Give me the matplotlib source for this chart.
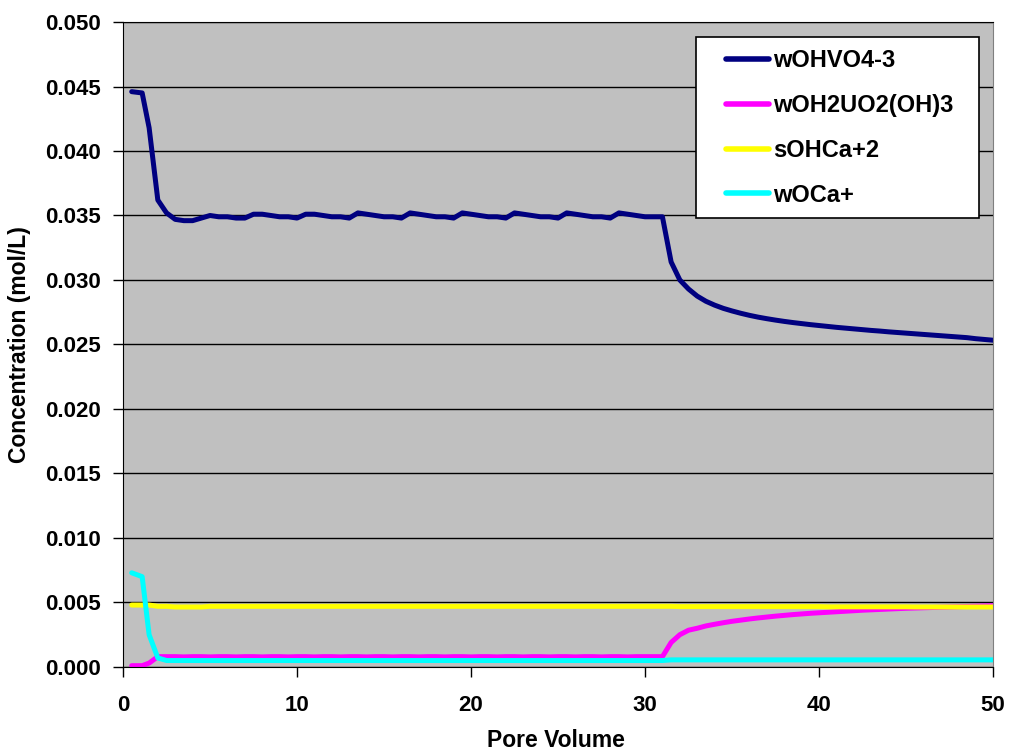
import numpy as np
import matplotlib
matplotlib.use("Agg")
import matplotlib.pyplot as plt
from matplotlib.patches import Rectangle

plt.rcParams['font.family'] = ['Liberation Sans', 'DejaVu Sans']
plt.rcParams['font.weight'] = 'bold'

# pore volume sample points
pv = np.concatenate([[0.5, 1.1, 1.5], np.arange(2.0, 50.01, 0.5)])

wOHVO4 = [
    0.0446, 0.0445, 0.0418, 0.0362, 0.0352, 0.0347, 0.0346, 0.0346, 0.0348, 0.0350,
    0.0349, 0.0349, 0.0348, 0.0348, 0.0351, 0.0351, 0.0350, 0.0349, 0.0349, 0.0348,
    0.0351, 0.0351, 0.0350, 0.0349, 0.0349, 0.0348, 0.0352, 0.0351, 0.0350, 0.0349,
    0.0349, 0.0348, 0.0352, 0.0351, 0.0350, 0.0349, 0.0349, 0.0348, 0.0352, 0.0351,
    0.0350, 0.0349, 0.0349, 0.0348, 0.0352, 0.0351, 0.0350, 0.0349, 0.0349, 0.0348,
    0.0352, 0.0351, 0.0350, 0.0349, 0.0349, 0.0348, 0.0352, 0.0351, 0.0350, 0.0349,
    0.0349, 0.0349, 0.0314, 0.03000, 0.02930, 0.02875, 0.02835, 0.02805, 0.02780, 0.02760,
    0.02742, 0.02726, 0.02712, 0.02700, 0.02689, 0.02679, 0.02670, 0.02662, 0.02654, 0.02647,
    0.02640, 0.02633, 0.02627, 0.02621, 0.02615, 0.02609, 0.02604, 0.02598, 0.02593, 0.02588,
    0.02583, 0.02578, 0.02573, 0.02568, 0.02563, 0.02558, 0.02553, 0.02545, 0.02539, 0.02533,
]

wOH2UO2 = [
    0.0001, 0.0001, 0.0003, 0.0008, 0.0008, 0.0008, 0.00078, 0.0008, 0.0008, 0.00078,
    0.0008, 0.0008, 0.00078, 0.0008, 0.0008, 0.00078, 0.0008, 0.0008, 0.00078, 0.0008,
    0.0008, 0.00078, 0.0008, 0.0008, 0.00078, 0.0008, 0.0008, 0.00078, 0.0008, 0.0008,
    0.00078, 0.0008, 0.0008, 0.00078, 0.0008, 0.0008, 0.00078, 0.0008, 0.0008, 0.00078,
    0.0008, 0.0008, 0.00078, 0.0008, 0.0008, 0.00078, 0.0008, 0.0008, 0.00078, 0.0008,
    0.0008, 0.00078, 0.0008, 0.0008, 0.00078, 0.0008, 0.0008, 0.00078, 0.0008, 0.0008,
    0.0008, 0.0008, 0.0019, 0.0025, 0.00285, 0.00300, 0.00318, 0.00331, 0.00343, 0.00354,
    0.00363, 0.00372, 0.00380, 0.00387, 0.00394, 0.00400, 0.00406, 0.00411, 0.00416, 0.00420,
    0.00424, 0.00428, 0.00432, 0.00436, 0.00440, 0.00443, 0.00446, 0.00449, 0.00452, 0.00455,
    0.00457, 0.00459, 0.00461, 0.00463, 0.00465, 0.00467, 0.00469, 0.00471, 0.00473, 0.00475,
]

sOHCa = [
    0.0048, 0.0048, 0.0048, 0.0047, 0.0047, 0.00465, 0.00465, 0.00465, 0.00465, 0.0047,
    0.0047, 0.0047, 0.0047, 0.0047, 0.0047, 0.0047, 0.0047, 0.0047, 0.0047, 0.0047,
    0.0047, 0.0047, 0.0047, 0.0047, 0.0047, 0.0047, 0.0047, 0.0047, 0.0047, 0.0047,
    0.0047, 0.0047, 0.0047, 0.0047, 0.0047, 0.0047, 0.0047, 0.0047, 0.0047, 0.0047,
    0.0047, 0.0047, 0.0047, 0.0047, 0.0047, 0.0047, 0.0047, 0.0047, 0.0047, 0.0047,
    0.0047, 0.0047, 0.0047, 0.0047, 0.0047, 0.0047, 0.0047, 0.0047, 0.0047, 0.0047,
    0.0047, 0.0047, 0.0047, 0.00468, 0.00468, 0.00468, 0.00468, 0.00468, 0.00468, 0.00468,
    0.00468, 0.00468, 0.00468, 0.00468, 0.00468, 0.00468, 0.00468, 0.00468, 0.00468, 0.00468,
    0.00466, 0.00466, 0.00466, 0.00466, 0.00466, 0.00466, 0.00466, 0.00466, 0.00466, 0.00466,
    0.00465, 0.00465, 0.00465, 0.00465, 0.00465, 0.00465, 0.00465, 0.00465, 0.00465, 0.00465,
]

wOCa = [
    0.0073, 0.0070, 0.0025, 0.0007, 0.0005, 0.0005, 0.0005, 0.0005, 0.0005, 0.0005,
    0.0005, 0.0005, 0.0005, 0.0005, 0.0005, 0.0005, 0.0005, 0.0005, 0.0005, 0.0005,
    0.0005, 0.0005, 0.0005, 0.0005, 0.0005, 0.0005, 0.0005, 0.0005, 0.0005, 0.0005,
    0.0005, 0.0005, 0.0005, 0.0005, 0.0005, 0.0005, 0.0005, 0.0005, 0.0005, 0.0005,
    0.0005, 0.0005, 0.0005, 0.0005, 0.0005, 0.0005, 0.0005, 0.0005, 0.0005, 0.0005,
    0.0005, 0.0005, 0.0005, 0.0005, 0.0005, 0.0005, 0.0005, 0.0005, 0.0005, 0.0005,
    0.0005, 0.0005, 0.00055, 0.00055, 0.00055, 0.00055, 0.00055, 0.00055, 0.00055, 0.00055,
    0.00055, 0.00055, 0.00055, 0.00055, 0.00055, 0.00055, 0.00055, 0.00055, 0.00055, 0.00055,
    0.00055, 0.00055, 0.00055, 0.00055, 0.00055, 0.00055, 0.00055, 0.00055, 0.00055, 0.00055,
    0.00055, 0.00055, 0.00055, 0.00055, 0.00055, 0.00055, 0.00055, 0.00055, 0.00055, 0.00055,
]

series = [
    ("wOHVO4-3", wOHVO4, "#000080"),
    ("wOH2UO2(OH)3", wOH2UO2, "#FF00FF"),
    ("sOHCa+2", sOHCa, "#FFFF00"),
    ("wOCa+", wOCa, "#00FFFF"),
]

fig = plt.figure(figsize=(10.1, 7.51), dpi=100)
ax = fig.add_axes([0.1218, 0.1119, 0.8614, 0.8588])
ax.set_facecolor("#C0C0C0")

for name, vals, col in series:
    ax.plot(pv, vals, color=col, lw=3.6, label=name, solid_capstyle="round")

ax.set_xlim(0, 50)
ax.set_ylim(0, 0.05)
ax.set_xticks(np.arange(0, 51, 10))
ax.set_yticks(np.arange(0, 0.0501, 0.005))
ax.yaxis.set_major_formatter(matplotlib.ticker.FormatStrFormatter("%.3f"))
ax.grid(axis="y", color="black", lw=1.0)
ax.set_axisbelow(True)
ax.tick_params(axis="y", direction="out", length=7, width=1, pad=9, labelsize=16)
ax.tick_params(axis="x", direction="out", length=7, width=1, pad=13, labelsize=16)
for s in ["left", "bottom", "top"]:
    ax.spines[s].set_color("black")
ax.spines["right"].set_color("#808080")

fig.text(0.0198, 0.5406, "Concentration (mol/L)", rotation=90,
         ha="center", va="center", fontsize=16.5, fontweight="bold")
fig.text(0.5505, 0.0146, "Pore Volume", ha="center", va="center",
         fontsize=16.5, fontweight="bold")

# legend box
ax.add_patch(Rectangle((0.6586, 0.6961), 0.3253, 0.2806, transform=ax.transAxes,
                       facecolor="white", edgecolor="black", lw=1.2, zorder=5))
leg = ax.legend(loc="upper left", bbox_to_anchor=(0.6931, 0.9575), frameon=False,
                borderpad=0, borderaxespad=0, handlelength=1.8, handletextpad=0.2,
                labelspacing=0.92, prop={"size": 17, "weight": "bold"})
leg.set_zorder(6)
for line in leg.get_lines():
    line.set_linewidth(4)

fig.savefig("out.png", dpi=100)
